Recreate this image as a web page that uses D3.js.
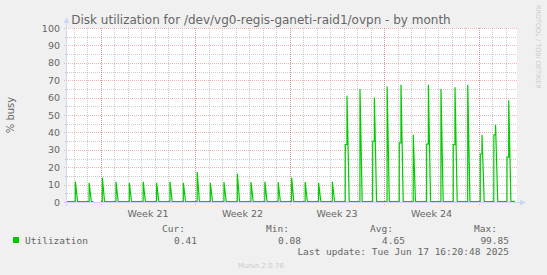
<!DOCTYPE html>
<html>
<head>
<meta charset="utf-8">
<script src="https://cdn.jsdelivr.net/npm/d3@7"></script>
<style>
  body { margin: 0; background: #f0f0f0; }
  svg { display: block; }
</style>
</head>
<body>
<div id="chart"></div>
<script>
// time range shown (local time)
const rangeStart = '2025-05-15T12:00'
const rangeEnd = '2025-06-17T20:00'
const lastPoint = ['2025-06-17T16:20', 0.41]
const baseValue = 0.3

// daily spikes: start, optional first step, peak (% busy)
const spikeTimes = [
  '2025-05-16T02:45', '2025-05-17T03:15', '2025-05-18T02:45', '2025-05-19T03:00',
  '2025-05-20T02:45', '2025-05-21T03:20', '2025-05-22T03:15', '2025-05-23T03:00',
  '2025-05-24T02:45', '2025-05-25T03:20', '2025-05-26T02:45', '2025-05-27T03:00',
  '2025-05-28T02:45', '2025-05-29T03:00', '2025-05-30T03:40', '2025-05-31T03:20',
  '2025-06-01T03:15', '2025-06-02T03:20', '2025-06-03T03:15', '2025-06-04T03:40',
  '2025-06-05T02:40', '2025-06-06T04:45', '2025-06-07T03:20', '2025-06-08T05:00',
  '2025-06-09T02:40', '2025-06-10T03:30', '2025-06-11T03:20', '2025-06-12T04:45',
  '2025-06-13T02:40', '2025-06-14T04:20', '2025-06-15T02:40', '2025-06-16T02:45',
  '2025-06-17T02:10'
]
const spikeSteps = [
  null, null, null, null, null, null, null, null, null, null, null, null,
  null, null, null, null, null, null, null, null,
  33, null, 34.8, null, 34, null, 33.3, null, 33, null, 27.6, 38.6, 25.8
]
const spikePeaks = [
  11.7, 11, 14, 11.7, 11, 11.7, 11, 11.7, 11, 17.4, 11, 11.5,
  16.3, 11.5, 11.7, 11.5, 14, 11.5, 11, 11.7,
  61, 65, 60, 66.4, 67.4, 38.6, 67.4, 65, 65.9, 67.4, 38.7, 44.4, 58.4
]
// no data in this period
const gapStart = '2025-05-17T11:00'
const gapEnd = '2025-05-18T00:30'

const yTicks = [0, 10, 20, 30, 40, 50, 60, 70, 80, 90, 100]
const weekLabels = ['Week 21', 'Week 22', 'Week 23', 'Week 24']
const weekStarts = ['2025-05-18', '2025-05-25', '2025-06-01', '2025-06-08', '2025-06-15']

const legendHead = ['Cur:', 'Min:', 'Avg:', 'Max:']
const legendVals = ['0.41', '0.08', '4.65', '99.85']

function draw_chart() {
    const W = 547, H = 275
    const left = 67, right = 517, top = 28, bottom = 202
    const hour = 3600 * 1000
    const parse = (s) => new Date(s)

    const svg = d3.select('#chart').append('svg').attr('width', W).attr('height', H)
        .style('font-family', '"DejaVu Sans", sans-serif')

    const x = d3.scaleTime().domain([parse(rangeStart), parse(rangeEnd)]).range([left, right])
    const y = d3.scaleLinear().domain([0, 100]).range([bottom, top])

    // build points from the spike lists
    let pts = [[parse(rangeStart), baseValue]]
    const gs = parse(gapStart), ge = parse(gapEnd)
    spikeTimes.forEach(function (s, i) {
        const t = parse(s)
        if (t > ge && pts[pts.length - 1][0] < gs) {
            pts.push([gs, baseValue], [new Date(+gs + 1), NaN], [ge, baseValue])
        }
        pts.push([t, baseValue])
        if (spikeSteps[i] !== null) {
            pts.push([new Date(+t + 0.1 * hour), spikeSteps[i]])
            pts.push([new Date(+t + 3 * hour), spikeSteps[i]])
            pts.push([new Date(+t + 3.1 * hour), spikePeaks[i]])
            pts.push([new Date(+t + 7 * hour), baseValue])
        } else {
            pts.push([new Date(+t + 0.1 * hour), spikePeaks[i]])
            pts.push([new Date(+t + 4 * hour), baseValue])
        }
    })
    pts.push([parse(lastPoint[0]), lastPoint[1]])

    // canvas
    svg.append('rect').attr('x', left).attr('y', top).attr('width', right - left).attr('height', bottom - top)
        .attr('fill', '#fff')

    const crisp = (v) => Math.round(v) + 0.5
    const minorCol = 'rgba(143,143,143,0.45)'
    const majorCol = 'rgba(222,79,79,0.42)'

    // minor grid
    const g = svg.append('g')
    const days = d3.timeDay.range(parse(rangeStart), parse(rangeEnd))
    g.selectAll('.vday').data(days).join('line')
        .attr('x1', (d) => crisp(x(d))).attr('x2', (d) => crisp(x(d)))
        .attr('y1', top).attr('y2', bottom + 2)
        .attr('stroke', minorCol).attr('stroke-dasharray', '1,1')
    g.selectAll('.hminor').data(d3.range(5, 100, 10)).join('line')
        .attr('x1', left - 2).attr('x2', right)
        .attr('y1', (d) => crisp(y(d))).attr('y2', (d) => crisp(y(d)))
        .attr('stroke', minorCol).attr('stroke-dasharray', '1,1')

    // major grid
    g.selectAll('.vweek').data(weekStarts.map(parse)).join('line')
        .attr('x1', (d) => crisp(x(d))).attr('x2', (d) => crisp(x(d)))
        .attr('y1', top).attr('y2', bottom + 3)
        .attr('stroke', majorCol).attr('stroke-dasharray', '1,1')
    g.selectAll('.hmajor').data(yTicks).join('line')
        .attr('x1', left - 3).attr('x2', right)
        .attr('y1', (d) => crisp(y(d))).attr('y2', (d) => crisp(y(d)))
        .attr('stroke', majorCol).attr('stroke-dasharray', '1,1')

    // axes
    svg.append('line').attr('x1', left - 0.5).attr('x2', left - 0.5).attr('y1', bottom + 4).attr('y2', top - 6)
        .attr('stroke', '#cfd6f8')
    svg.append('line').attr('x1', left - 3).attr('x2', right + 3).attr('y1', bottom + 0.5).attr('y2', bottom + 0.5)
        .attr('stroke', '#cfd6f8')
    svg.append('path').attr('d', `M${left - 3.5},${top - 5}L${left + 2.5},${top - 5}L${left - 0.5},${top - 11}Z`)
        .attr('fill', '#cfd6f8')
    svg.append('path').attr('d', `M${right + 3},${bottom - 2.5}L${right + 3},${bottom + 3.5}L${right + 9},${bottom + 0.5}Z`)
        .attr('fill', '#cfd6f8')

    // data line
    const line = d3.line().defined((d) => !isNaN(d[1])).x((d) => x(d[0])).y((d) => y(d[1]))
    svg.append('path').datum(pts).attr('d', line)
        .attr('fill', 'none').attr('stroke', '#00cc00').attr('stroke-width', 1.2)

    // y labels
    svg.selectAll('.ylab').data(yTicks).join('text')
        .attr('x', 60).attr('y', (d) => y(d) + 3.5)
        .attr('text-anchor', 'end').attr('font-size', 9.5).attr('fill', '#666')
        .text((d) => d)

    // week labels (centred mid-week)
    svg.selectAll('.wlab').data(weekLabels).join('text')
        .attr('x', (d, i) => (x(parse(weekStarts[i])) + x(parse(weekStarts[i + 1]))) / 2)
        .attr('y', 216.5).attr('text-anchor', 'middle').attr('font-size', 9.5).attr('fill', '#666')
        .text((d) => d)

    svg.append('text').attr('transform', 'translate(14,115) rotate(-90)')
        .attr('text-anchor', 'middle').attr('font-size', 10).attr('fill', '#666').text('% busy')

    svg.append('text').attr('x', 261).attr('y', 24).attr('text-anchor', 'middle')
        .attr('font-size', 12).attr('fill', '#666')
        .text('Disk utilization for /dev/vg0-regis-ganeti-raid1/ovpn - by month')

    svg.append('text').attr('transform', 'translate(536,5) rotate(90)')
        .attr('font-size', 6.5).attr('fill', '#ccc').text('RRDTOOL / TOBI OETIKER')

    // legend
    const mono = '"DejaVu Sans Mono", monospace'
    const leg = svg.append('g').style('font-family', mono).attr('font-size', 9.5).attr('fill', '#666')
    leg.append('rect').attr('x', 13).attr('y', 237).attr('width', 6).attr('height', 6).attr('fill', '#00cc00')
    leg.append('text').attr('x', 25).attr('y', 243.5).text('Utilization')
    const headX = [185, 289, 393, 497]
    const valX = [197, 301, 405, 509]
    leg.selectAll('.lh').data(legendHead).join('text')
        .attr('x', (d, i) => headX[i]).attr('y', 231.5).attr('text-anchor', 'end').text((d) => d)
    leg.selectAll('.lv').data(legendVals).join('text')
        .attr('x', (d, i) => valX[i]).attr('y', 243.5).attr('text-anchor', 'end').text((d) => d)
    leg.append('text').attr('x', 509).attr('y', 255).attr('text-anchor', 'end')
        .text('Last update: Tue Jun 17 16:20:48 2025')

    svg.append('text').attr('x', 261).attr('y', 268).attr('text-anchor', 'middle')
        .attr('font-size', 7).attr('fill', '#ccc').text('Munin 2.0.76')
}

draw_chart()
</script>
</body>
</html>
